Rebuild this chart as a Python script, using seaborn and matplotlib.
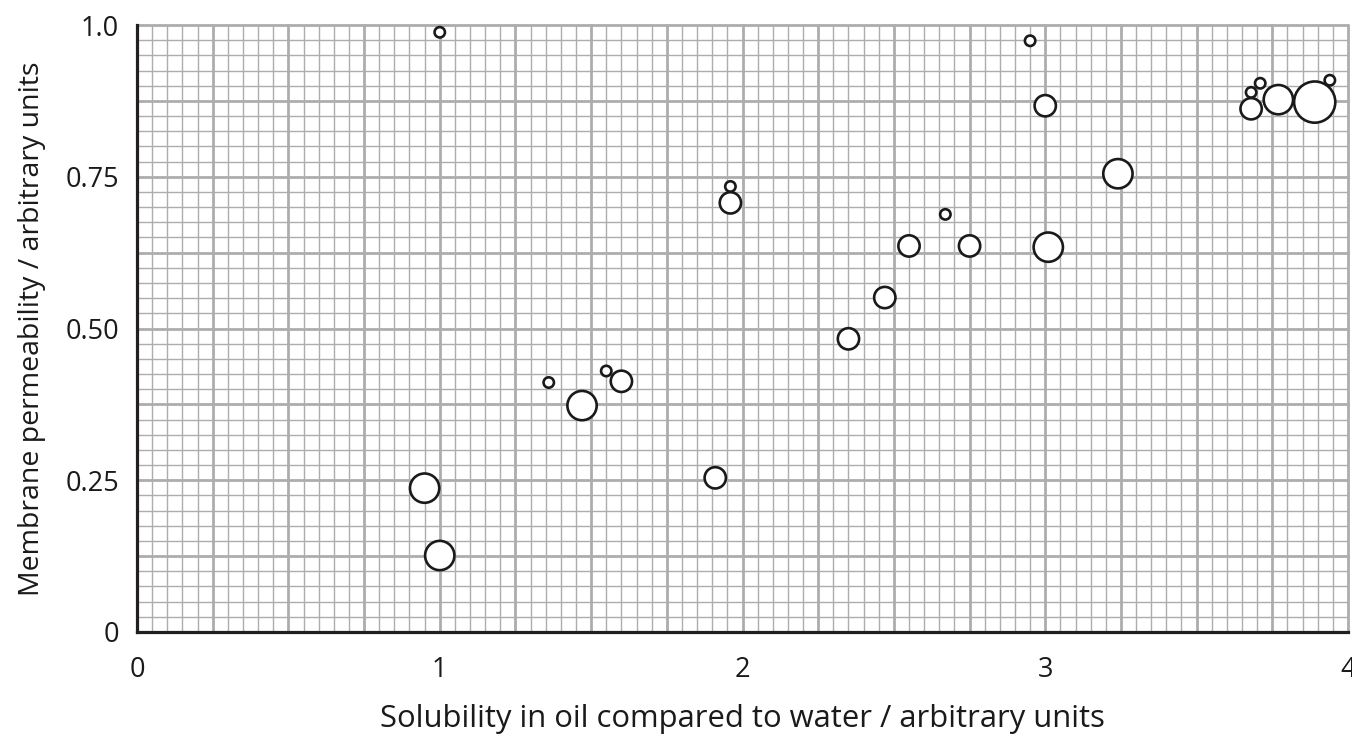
import numpy as np
import pandas as pd
import matplotlib
matplotlib.use("Agg")
import matplotlib.pyplot as plt
import seaborn as sns

# ---- data ----
solubility = [1.00, 2.95, 3.00, 3.68, 3.71, 3.68, 3.77, 3.89, 3.94,
              3.24, 1.96, 1.96, 2.67, 2.55, 2.75, 3.01, 2.47, 2.35,
              1.36, 1.55, 1.60, 1.47, 1.91, 0.95, 1.00]
permeability = [0.988, 0.974, 0.867, 0.889, 0.904, 0.862, 0.877, 0.873, 0.909,
                0.755, 0.734, 0.707, 0.688, 0.636, 0.636, 0.634, 0.551, 0.483,
                0.411, 0.430, 0.413, 0.373, 0.254, 0.237, 0.126]
molecule_size = [1, 1, 2, 1, 1, 2, 3, 4, 1,
                 3, 1, 2, 1, 2, 2, 3, 2, 2,
                 1, 1, 2, 3, 2, 3, 3]
x_ticks = [0, 1, 2, 3, 4]
x_tick_labels = ["0", "1", "2", "3", "4"]
y_ticks = [0, 0.25, 0.5, 0.75, 1.0]
y_tick_labels = ["0", "0.25", "0.50", "0.75", "1.0"]
x_label = "Solubility in oil compared to water / arbitrary units"
y_label = "Membrane permeability / arbitrary units"

df = pd.DataFrame({"x": solubility, "y": permeability, "size": molecule_size})

sns.set_style("white")
plt.rcParams["font.family"] = ["Open Sans", "DejaVu Sans"]

fig = plt.figure(figsize=(13.52, 7.36), dpi=100)
ax = fig.add_axes([137 / 1352, 104 / 736, (1348 - 137) / 1352, (632 - 25) / 736])

grid_col = "#adadad"
# graph paper grid
for v in np.arange(0, 4.0001, 0.05):
    major = abs(v / 0.25 - round(v / 0.25)) < 1e-6
    ax.axvline(v, color=grid_col, lw=2.0 if major else 1.0, zorder=0, clip_on=False)
for v in np.arange(0, 1.0001, 0.025):
    major = abs(v / 0.125 - round(v / 0.125)) < 1e-6
    ax.axhline(v, color=grid_col, lw=2.0 if major else 1.0, zorder=0, clip_on=False)

sns.scatterplot(data=df, x="x", y="y", size="size",
                sizes={1: 56, 2: 235, 3: 445, 4: 880},
                color="white", edgecolor="#1a1a1a", linewidth=1.9,
                legend=False, ax=ax, zorder=3, clip_on=False)

ax.set_xlim(0, 4)
ax.set_ylim(0, 1)
ax.set_xticks(x_ticks)
ax.set_xticklabels(x_tick_labels)
ax.set_yticks(y_ticks)
ax.set_yticklabels(y_tick_labels)
ax.tick_params(axis="both", direction="out", length=9, width=1.4, color="#1a1a1a",
               labelsize=19.5, labelcolor="#1a1a1a", pad=4)
ax.tick_params(axis="x", pad=8)

for s in ["top", "right"]:
    ax.spines[s].set_visible(False)
for s in ["left", "bottom"]:
    ax.spines[s].set_color("#231f20")
    ax.spines[s].set_linewidth(2.3)
    ax.spines[s].set_zorder(4)

ax.set_xlabel(x_label, fontsize=22.3, color="#1a1a1a", labelpad=15)
ax.set_ylabel(y_label, fontsize=20.5, color="#1a1a1a", labelpad=14)

fig.savefig("out.png", dpi=100)
